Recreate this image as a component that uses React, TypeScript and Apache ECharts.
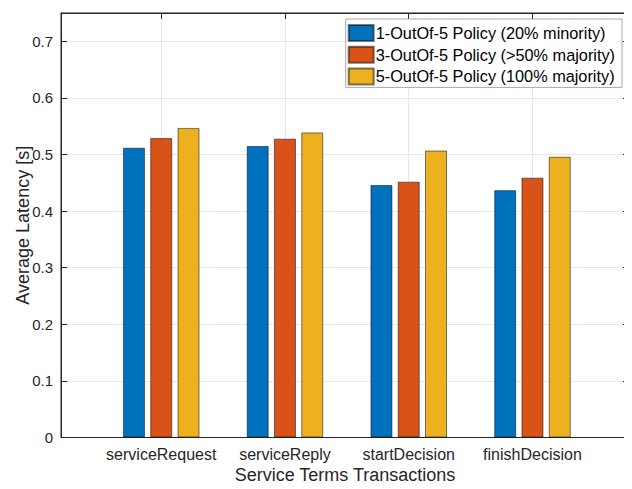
import { useEffect, useRef } from "react";
import * as echarts from "echarts";

// Transaction types on the x axis (placed at positions 1..4)
const categories = ["serviceRequest", "serviceReply", "startDecision", "finishDecision"];

// Consensus policies
const policyNames = [
  "1-OutOf-5 Policy (20% minority)",
  "3-OutOf-5 Policy (>50% majority)",
  "5-OutOf-5 Policy (100% majority)",
];

// Average latency in seconds, per transaction type
const oneOutOfFive = [0.512, 0.515, 0.446, 0.437];
const threeOutOfFive = [0.529, 0.528, 0.452, 0.459];
const fiveOutOfFive = [0.547, 0.539, 0.507, 0.496];

const yTicks = [0, 0.1, 0.2, 0.3, 0.4, 0.5, 0.6, 0.7];

const policyColors = ["#0072BD", "#D95319", "#EDB120"];
const textColor = "#262626";
const fontFamily = "'Liberation Sans', Arial, Helvetica, sans-serif";

const positions = categories.map((_, i) => i + 1);
const xMin = 0.19;
const xMax = 4.78;

export default function App() {
  const ref = useRef<HTMLDivElement>(null);

  useEffect(() => {
    if (!ref.current) return;
    const chart = echarts.init(ref.current, undefined, { renderer: "svg" });

    const seriesValues = [oneOutOfFive, threeOutOfFive, fiveOutOfFive];

    const frameTick = (values: number[]) => ({
      show: true,
      inside: true,
      length: 6,
      customValues: values,
      lineStyle: { color: textColor },
    });

    chart.setOption({
      animation: false,
      textStyle: { fontFamily, color: textColor },
      grid: {
        left: 61,
        right: 3,
        top: 13,
        bottom: 47,
        containLabel: false,
        show: true,
        borderColor: textColor,
        borderWidth: 1,
        backgroundColor: "transparent",
      },
      legend: {
        orient: "vertical",
        right: 10,
        top: 19,
        padding: [5, 7, 2, 2],
        icon: "rect",
        itemWidth: 25,
        itemHeight: 16,
        itemGap: 3.7,
        backgroundColor: "#ffffff",
        borderColor: "#a8a8a8",
        borderWidth: 1,
        borderRadius: 0,
        textStyle: {
          fontSize: 16.3,
          lineHeight: 16,
          color: "#000000",
          fontFamily,
          padding: [0, 0, 0, -3],
        },
        data: policyNames,
      },
      xAxis: [
        {
          type: "value",
          min: xMin,
          max: xMax,
          position: "bottom",
          name: "Service Terms Transactions",
          nameLocation: "middle",
          nameGap: 28.5,
          nameMoveOverlap: false,
          nameTextStyle: { fontSize: 18, color: textColor, fontFamily },
          axisLine: { show: true, onZero: false, lineStyle: { color: textColor, width: 1 } },
          axisTick: frameTick(positions),
          axisLabel: {
            customValues: positions,
            margin: 9,
            fontSize: 16,
            color: textColor,
            fontFamily,
            formatter: (v: number) => categories[Math.round(v) - 1] ?? "",
          },
          splitLine: { show: true, lineStyle: { color: "#e8e8e8", width: 1 } },
        },
        {
          type: "value",
          min: xMin,
          max: xMax,
          position: "top",
          axisLine: { show: true, onZero: false, lineStyle: { color: textColor, width: 1 } },
          axisTick: frameTick(positions),
          axisLabel: { show: false },
          splitLine: { show: false },
        },
      ],
      yAxis: [
        {
          type: "value",
          min: 0,
          max: 0.75,
          interval: 0.1,
          position: "left",
          name: "Average Latency [s]",
          nameLocation: "middle",
          nameGap: 29,
          nameMoveOverlap: false,
          nameTextStyle: { fontSize: 18, color: textColor, fontFamily },
          axisLine: { show: true, onZero: false, lineStyle: { color: textColor, width: 1 } },
          axisTick: frameTick(yTicks),
          axisLabel: {
            customValues: yTicks,
            margin: 8,
            fontSize: 15,
            color: textColor,
            fontFamily,
            formatter: (v: number) => String(Math.round(v * 10) / 10),
          },
          splitLine: { show: true, lineStyle: { color: "#e8e8e8", width: 1 } },
        },
        {
          type: "value",
          min: 0,
          max: 0.75,
          interval: 0.1,
          position: "right",
          axisLine: { show: true, onZero: false, lineStyle: { color: textColor, width: 1 } },
          axisTick: frameTick(yTicks),
          axisLabel: { show: false },
          splitLine: { show: false },
        },
      ],
      series: policyNames.map((name, s) => ({
        name,
        type: "bar",
        xAxisIndex: 0,
        yAxisIndex: 0,
        barWidth: 22,
        barGap: "24%",
        itemStyle: {
          color: policyColors[s],
          borderColor: "rgba(0,0,0,0.5)",
          borderWidth: 1,
        },
        data: seriesValues[s].map((v, i) => [positions[i], v]),
      })),
    });

    return () => chart.dispose();
  }, []);

  return <div ref={ref} style={{ width: 632, height: 489, margin: -8 }} />;
}
